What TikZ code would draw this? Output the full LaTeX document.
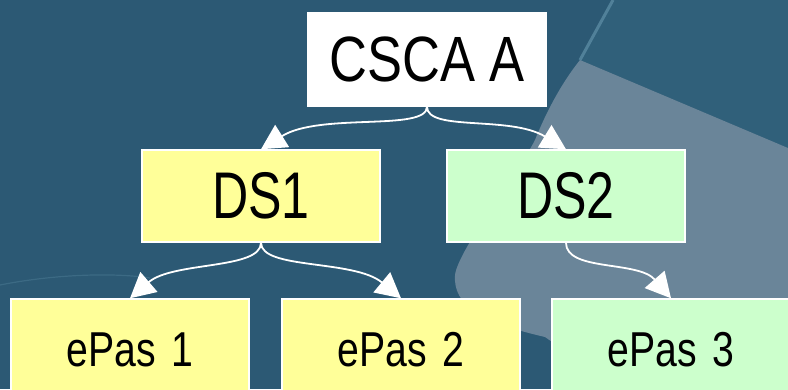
\documentclass[tikz,border=0pt]{standalone}
\usepackage{fontspec}
\setmainfont{Liberation Sans}
\newfontfamily\topfont{Liberation Sans}[FakeStretch=0.82]
\newfontfamily\midfont{Liberation Sans}[FakeStretch=0.76]
\newfontfamily\lowfont{Liberation Sans}[FakeStretch=0.8, WordSpace=1.4]
\usetikzlibrary{arrows.meta}
\definecolor{bgdark}{HTML}{2C5974}
\definecolor{bglight}{HTML}{6A8599}
\definecolor{bgplane}{HTML}{30607A}
\definecolor{streak}{HTML}{5A8AA2}
\definecolor{yellowfill}{HTML}{FFFF99}
\definecolor{greenfill}{HTML}{CCFFCC}
\tikzset{
  box/.style={draw=white, line width=1.5pt, inner sep=0pt, text=black,
    minimum width=238pt, minimum height=92pt},
  topbox/.style={box, fill=white, minimum width=239pt, minimum height=93pt,
    font=\topfont\fontsize{64}{70}\selectfont},
  midyellow/.style={box, fill=yellowfill, font=\midfont\fontsize{66}{70}\selectfont},
  midgreen/.style={box, fill=greenfill, font=\midfont\fontsize{66}{70}\selectfont},
  lowyellow/.style={box, fill=yellowfill, minimum height=102pt, font=\lowfont\fontsize{49}{50}\selectfont},
  lowgreen/.style={box, fill=greenfill, minimum height=102pt, font=\lowfont\fontsize{49}{50}\selectfont},
  link/.style={draw=white, line width=1.8pt, -{Triangle[length=25pt,width=26pt]}}
}
\begin{document}
\begin{tikzpicture}[x=1pt,y=-1pt]
\useasboundingbox (0,0) rectangle (788,389);
\clip (0,0) rectangle (788,389);
% background
\fill[bgdark] (0,0) rectangle (788,389);
\fill[bgplane] (613,0) -- (788,0) -- (788,148) -- (580,60) -- cycle;
\fill[bglight] (580,60) -- (788,148) -- (788,389) -- (620,389) -- (545,337)
  .. controls (480,322) and (453,305) .. (455,275)
  .. controls (458,250) and (520,170) .. (535,140)
  .. controls (545,115) and (560,85) .. (580,60) -- cycle;
\draw[streak, line width=3pt, opacity=0.8] (613,0) -- (580,60);
\draw[streak, line width=1.2pt, opacity=0.35] (0,285) .. controls (50,275) and (110,272) .. (150,278);
% nodes
\node[topbox] (csca) at (427,59.5) {CSCA A};
\node[midyellow] (ds1) at (261,196) {DS1};
\node[midgreen] (ds2) at (566,196) {DS2};
\node[lowyellow] (ep1) at (130,350) {ePas 1};
\node[lowyellow] (ep2) at (401,350) {ePas 2};
\node[lowgreen] (ep3) at (671,350) {ePas 3};
% connectors
\draw[link] (csca.south) .. controls +(0,25) and +(59,-37) .. (ds1.north);
\draw[link] (csca.south) .. controls +(0,25) and +(-56,-34) .. (ds2.north);
\draw[link] (ds1.south) .. controls +(0,27) and +(43,-37) .. (ep1.north);
\draw[link] (ds1.south) .. controls +(0,27) and +(-47,-39) .. (ep2.north);
\draw[link] (ds2.south) .. controls +(0,29) and +(-33,-38) .. (ep3.north);
\end{tikzpicture}
\end{document}
